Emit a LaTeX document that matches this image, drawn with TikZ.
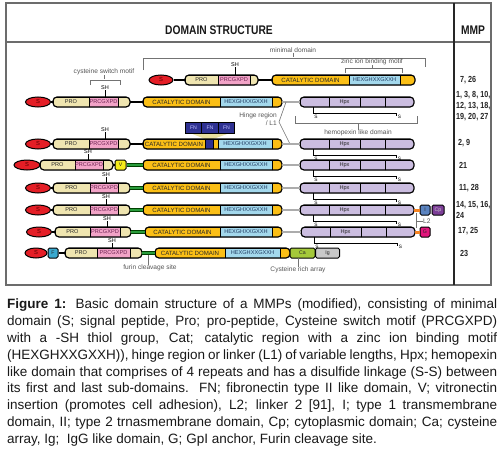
\documentclass[tikz,border=0pt]{standalone}
\usepackage{fontspec}
\usepackage{graphicx}
\setmainfont{Liberation Sans}
\newfontfamily\narrowfont{Liberation Sans}[FakeStretch=0.82]
\usetikzlibrary{shapes.geometric}
\definecolor{sred}{HTML}{E41E26}
\definecolor{probg}{HTML}{EFE5B0}
\definecolor{prcbg}{HTML}{F2A3C7}
\definecolor{catbg}{HTML}{FBBF16}
\definecolor{hexbg}{HTML}{A3D8EC}
\definecolor{hpxbg}{HTML}{CBBDE0}
\definecolor{vbg}{HTML}{F5EC1A}
\definecolor{grn}{HTML}{2A9C3C}
\definecolor{fnbg}{HTML}{2E3192}
\definecolor{fanbg}{HTML}{E8DFA0}
\definecolor{ibg}{HTML}{5A83C0}
\definecolor{cpbg}{HTML}{7D3F98}
\definecolor{gbg}{HTML}{E2157C}
\definecolor{orng}{HTML}{F58220}
\definecolor{cabg}{HTML}{A4C93A}
\definecolor{igbg}{HTML}{C9C9C9}
\definecolor{fubg}{HTML}{3AA9CF}
\definecolor{prctext}{HTML}{6B2050}
\definecolor{hextext}{HTML}{203A60}
\definecolor{notec}{HTML}{555555}
\tikzset{
  outl/.style={draw=black, line width=1.2pt},
  seg/.style={rectangle, draw=black, line width=0.8pt, minimum height=10pt, inner sep=0pt, outer sep=0pt, anchor=west, font=\fontsize{5.6}{6}\selectfont, text=black!85},
  sig/.style={ellipse, draw=black, line width=1pt, fill=sred, minimum height=10pt, inner sep=0pt, font=\fontsize{5.8}{6}\selectfont, text=red!35!black},
  tbox/.style={rectangle, rounded corners=1.5pt, draw=black, line width=1pt, minimum height=10pt, minimum width=10pt, inner sep=0pt, font=\fontsize{5.2}{6}\selectfont, text=black!85},
  fnbox/.style={rectangle, draw=black, line width=0.8pt, fill=fnbg, minimum width=16.5pt, minimum height=11pt, inner sep=0pt, font=\fontsize{5.2}{6}\selectfont, text=blue!25!white},
  conn/.style={draw=black, line width=1.1pt},
  hinge/.style={draw=black, line width=0.5pt, double=gray!65, double distance=1.6pt},
  glink/.style={draw=green!25!black, line width=0.5pt, double=grn, double distance=2.6pt},
  olink/.style={draw=orng, line width=3pt},
  note/.style={font=\fontsize{6.6}{7.6}\selectfont, text=notec, inner sep=0pt},
  brk/.style={draw=black!55, line width=0.6pt},
  ssl/.style={draw=black, line width=0.8pt},
  sslab/.style={font=\fontsize{4.8}{5}\selectfont, inner sep=0pt},
  shlab/.style={font=\fontsize{5.5}{5.5}\selectfont, inner sep=0pt},
  shline/.style={draw=black, line width=0.7pt},
  mmp/.style={font=\narrowfont\bfseries\fontsize{8.8}{11}\selectfont, anchor=west, inner sep=0pt, text=black!85, align=left},
  title/.style={font=\narrowfont\bfseries\fontsize{12.5}{14}\selectfont, inner sep=0pt, text=black!90},
  framec/.style={draw=gray!85!black, line width=1.4pt},
  divider/.style={draw=black!85, line width=1.4pt},
}
\newcommand\seg[6]{\node[seg, fill=#5, minimum width={(#3)-(#2)}] (#1) at (#2,#4) {#6};}
\newcommand\capsule[4]{\begin{scope}\clip[rounded corners=4pt] (#1,#3-5) rectangle (#2,#3+5); #4\end{scope}\draw[outl, rounded corners=4pt] (#1,#3-5) rectangle (#2,#3+5);}
\newcommand\procap[6]{\capsule{#2}{#5}{#6}{\seg{#1pro}{#2}{#3}{#6}{probg}{PRO}\seg{#1prc}{#3}{#4}{#6}{prcbg}{\textcolor{prctext}{PRCGXPD}}\seg{#1pre}{#4}{#5}{#6}{probg}{}}}
\newcommand\catcap[6]{\capsule{#2}{#5}{#6}{\seg{#1cat}{#2}{#3}{#6}{catbg}{\fontsize{6.1}{6}\selectfont CATALYTIC DOMAIN}\seg{#1hex}{#3}{#4}{#6}{hexbg}{\textcolor{hextext}{HEXGHXXGXXH}}\seg{#1end}{#4}{#5}{#6}{catbg}{}}}
\newcommand\hpxcap[3]{\capsule{#2}{#2+114}{#3}{\seg{#1h1}{#2}{#2+29}{#3}{hpxbg}{}\seg{#1h2}{#2+29}{#2+60}{#3}{hpxbg}{Hpx}\seg{#1h3}{#2+60}{#2+85}{#3}{hpxbg}{}\seg{#1h4}{#2+85}{#2+114}{#3}{hpxbg}{}}}
\newcommand\ssbond[3]{\draw[ssl] (#2+13,#3+5) -- (#2+13,#3+11) -- (#2+96,#3+11) -- (#2+96,#3+14);
  \node[sslab] (#1a) at (#2+16,#3+14.5) {S}; \node[sslab] (#1b) at (#2+99.5,#3+14.5) {S};}
\newcommand\shmark[4]{\node[shlab] (#1) at (#2,#3) {SH}; \draw[shline] (#1.south) -- (#2,#4);}
\begin{document}
\begin{tikzpicture}[x=1pt,y=-1pt]
\useasboundingbox[fill=white] (0,0) rectangle (500,452);
% frame
\draw[framec] (6,3) rectangle (491,285);
\draw[framec] (6,42) -- (491,42);
\draw[divider] (454,3) -- (454,285);
\node[title] (title) at (219,30) {DOMAIN STRUCTURE};
\node[title] (mmphead) at (473,30) {MMP};

% top annotations
\node[note] (mdl) at (293,50) {minimal domain};
\draw[brk] (143,70) -- (143,58) -- (425,58) -- (425,67);
\draw[brk] (mdl.south) -- ++(0,4);
\node[note] (zn) at (372,62) {zinc ion binding motif};
\draw[brk] (345,73) -- (345,68) -- (402,68) -- (402,73);
\draw[brk] (zn.south) -- ++(0,3);
\node[note] (csm) at (104,72) {cysteine switch motif};
\draw[brk] (90,85) -- (90,80) -- (120,80) -- (120,85);
\draw[brk] (csm.south) -- ++(0,4);

% row 0
\node[sig, minimum width=24pt] (s0) at (161,80) {S};
\procap{r0}{185}{218}{250}{258}{80}
\draw[conn] (s0.east) -- (r0pro.west);
\catcap{r0}{272}{349}{400}{415}{80}
\draw[conn] (r0pre.east) -- (r0cat.west);
\shmark{sh0}{235}{65}{75}

% row 1
\node[sig, minimum width=25pt] (s1) at (38,102) {S};
\procap{r1}{53}{89}{118}{130}{102}
\draw[conn] (s1.east) -- (r1pro.west);
\catcap{r1}{143}{220}{272}{282}{102}
\draw[conn] (r1pre.east) -- (r1cat.west);
\hpxcap{r1}{300}{102}
\draw[hinge] (r1end.east) -- (r1h1.west);
\ssbond{ss1}{300}{102}
\shmark{sh1}{105}{88}{97}
\draw[brk] (295,116) -- (295,123) -- (417,123) -- (417,116);
\node[note] (hpl) at (358,133) {hemopexin like domain};
\draw[brk] (358,123) -- (hpl.north);
\node[note, anchor=east, align=right] (hng) at (277,119) {Hinge region\\/ L1};
\coordinate (hv) at (279,122);
\coordinate (hg1) at (286,102);
\coordinate (hg2) at (290,144);
\draw[brk] (hg1) -- (hv) -- (hg2);

% row 2
\fill[fanbg] (190,133) -- (230,133) -- (213,139) -- (205,139) -- cycle;
\node[fnbox] (fn1) at (193.5,127.5) {FN};
\node[fnbox] (fn2) at (210,127.5) {FN};
\node[fnbox] (fn3) at (226.5,127.5) {FN};
\node[sig, minimum width=25pt] (s2) at (38,144) {S};
\procap{r2}{53}{89}{118}{130}{144}
\draw[conn] (s2.east) -- (r2pro.west);
\capsule{143}{282}{144}{\seg{r2cat}{143}{205}{144}{catbg}{\fontsize{6.1}{6}\selectfont CATALYTIC DOMAIN}\seg{r2fni}{205}{213}{144}{fnbg}{}\seg{r2cy}{213}{218}{144}{catbg}{}\seg{r2hex}{218}{272}{144}{hexbg}{\textcolor{hextext}{HEXGHXXGXXH}}\seg{r2end}{272}{282}{144}{catbg}{}}
\draw[conn] (r2pre.east) -- (r2cat.west);
\hpxcap{r2}{300}{144}
\draw[hinge] (r2end.east) -- (r2h1.west);
\ssbond{ss2}{300}{144}
\shmark{sh2}{105}{130}{139}

% row 3
\node[sig, minimum width=26pt] (s3) at (27,165) {S};
\procap{r3}{40}{75}{103}{113}{165}
\draw[conn] (s3.east) -- (r3pro.west);
\node[tbox, fill=vbg, minimum width=11pt] (r3v) at (120.5,165) {V};
\draw[conn] (r3pre.east) -- (r3v.west);
\catcap{r3}{143}{220}{272}{282}{165}
\draw[glink] (r3v.east) -- (r3cat.west);
\hpxcap{r3}{300}{165}
\draw[hinge] (r3end.east) -- (r3h1.west);
\ssbond{ss3}{300}{165}
\shmark{sh3}{88}{152}{160}

% row 4
\node[sig, minimum width=25pt] (s4) at (38,188) {S};
\procap{r4}{53}{90}{118}{130}{188}
\draw[conn] (s4.east) -- (r4pro.west);
\catcap{r4}{143}{220}{272}{282}{188}
\draw[glink] (r4pre.east) -- (r4cat.west);
\hpxcap{r4}{300}{188}
\draw[hinge] (r4end.east) -- (r4h1.west);
\ssbond{ss4}{300}{188}
\shmark{sh4}{106}{175}{183}

% row 5
\node[sig, minimum width=25pt] (s5) at (38,210) {S};
\procap{r5}{53}{90}{118}{130}{210}
\draw[conn] (s5.east) -- (r5pro.west);
\catcap{r5}{143}{220}{272}{282}{210}
\draw[glink] (r5pre.east) -- (r5cat.west);
\hpxcap{r5}{300}{210}
\draw[hinge] (r5end.east) -- (r5h1.west);
\ssbond{ss5}{300}{210}
\shmark{sh5}{106}{197}{205}
\node[tbox, fill=ibg] (r5i) at (425,210) {I};
\node[tbox, fill=cpbg, minimum width=12pt, text=white!80!black] (r5cp) at (438,210) {Cp};
\draw[olink] (r5h4.east) -- (r5i.west);

% row 6
\node[sig, minimum width=25pt] (s6) at (39,232) {S};
\procap{r6}{55}{90}{120}{131}{232}
\draw[conn] (s6.east) -- (r6pro.west);
\catcap{r6}{145}{220}{272}{282}{232}
\draw[glink] (r6pre.east) -- (r6cat.west);
\hpxcap{r6}{301}{232}
\draw[hinge] (r6end.east) -- (r6h1.west);
\ssbond{ss6}{301}{232}
\shmark{sh6}{107}{219}{227}
\node[tbox, fill=gbg] (r6g) at (425,232) {G};
\draw[olink] (r6h4.east) -- (r6g.west);
% L2
\coordinate (l2a) at (416,213);
\coordinate (l2b) at (416,228);
\coordinate (l2c) at (416,221);
\node[note, anchor=west] (l2) at (423,221) {L2};
\draw[brk] (l2a) -- (l2b);
\draw[brk] (l2c) -- (l2.west);

% row 7
\node[sig, minimum width=22pt] (s7) at (36,253) {S};
\node[tbox, fill=fubg] (r7f) at (53,253) {F};
\draw[conn] (s7.east) -- (r7f.west);
\procap{r7}{65}{97}{130}{142}{253}
\draw[conn] (r7f.east) -- (r7pro.west);
\catcap{r7}{155}{225}{280}{290}{253}
\draw[glink] (r7pre.east) -- (r7cat.west);
\node[tbox, fill=cabg, minimum width=25pt] (r7ca) at (302.5,253) {Ca};
\node[tbox, fill=igbg, minimum width=24pt] (r7ig) at (327.5,253) {Ig};
\shmark{sh7}{112}{241}{248}
\coordinate (fcs) at (148,255);
\node[note] (fur) at (150,268) {furin cleavage site};
\draw[brk] (fcs) -- (fur.north -| fcs);
\node[note] (cra) at (298,270) {Cysteine rich array};
\draw[brk] (298,258) -- (cra.north);

% MMP column
\node[mmp] (m0) at (460,80) {7, 26};
\node[mmp] (m1) at (456,106) {1, 3, 8, 10,\\12, 13, 18,\\19, 20, 27};
\node[mmp] (m2) at (458,143) {2, 9};
\node[mmp] (m3) at (459,165) {21};
\node[mmp] (m4) at (459,188) {11, 28};
\node[mmp] (m5) at (456,209.5) {14, 15, 16,\\24};
\node[mmp] (m6) at (458,231) {17, 25};
\node[mmp] (m7) at (460,253) {23};

% caption
\node[anchor=north west, text width=490pt, align=justify, inner sep=0pt, font=\fontsize{13.5}{16.8}\selectfont, text=black!90] (cap) at (7,299) {\textbf{Figure 1:} Basic domain structure of a MMPs (modified), consisting of minimal\linebreak domain (S; signal peptide, Pro; pro-peptide, Cysteine switch motif (PRCGXPD)\linebreak with a -SH thiol group, Cat; catalytic region with a zinc ion binding motif\linebreak (HEXGHXXGXXH)), hinge region or linker (L1) of variable lengths, Hpx; hemopexin\linebreak like domain that comprises of 4 repeats and has a disulfide linkage (S-S) between\linebreak its first and last sub-domains. FN; fibronectin type II like domain, V; vitronectin\linebreak insertion (promotes cell adhesion), L2; linker 2 [91], I; type 1 transmembrane\linebreak domain, II; type 2 trnasmembrane domain, Cp; cytoplasmic domain; Ca; cysteine\linebreak array, Ig;\ \ IgG like domain, G; GpI anchor, Furin cleavage site.};
\end{tikzpicture}
\end{document}
